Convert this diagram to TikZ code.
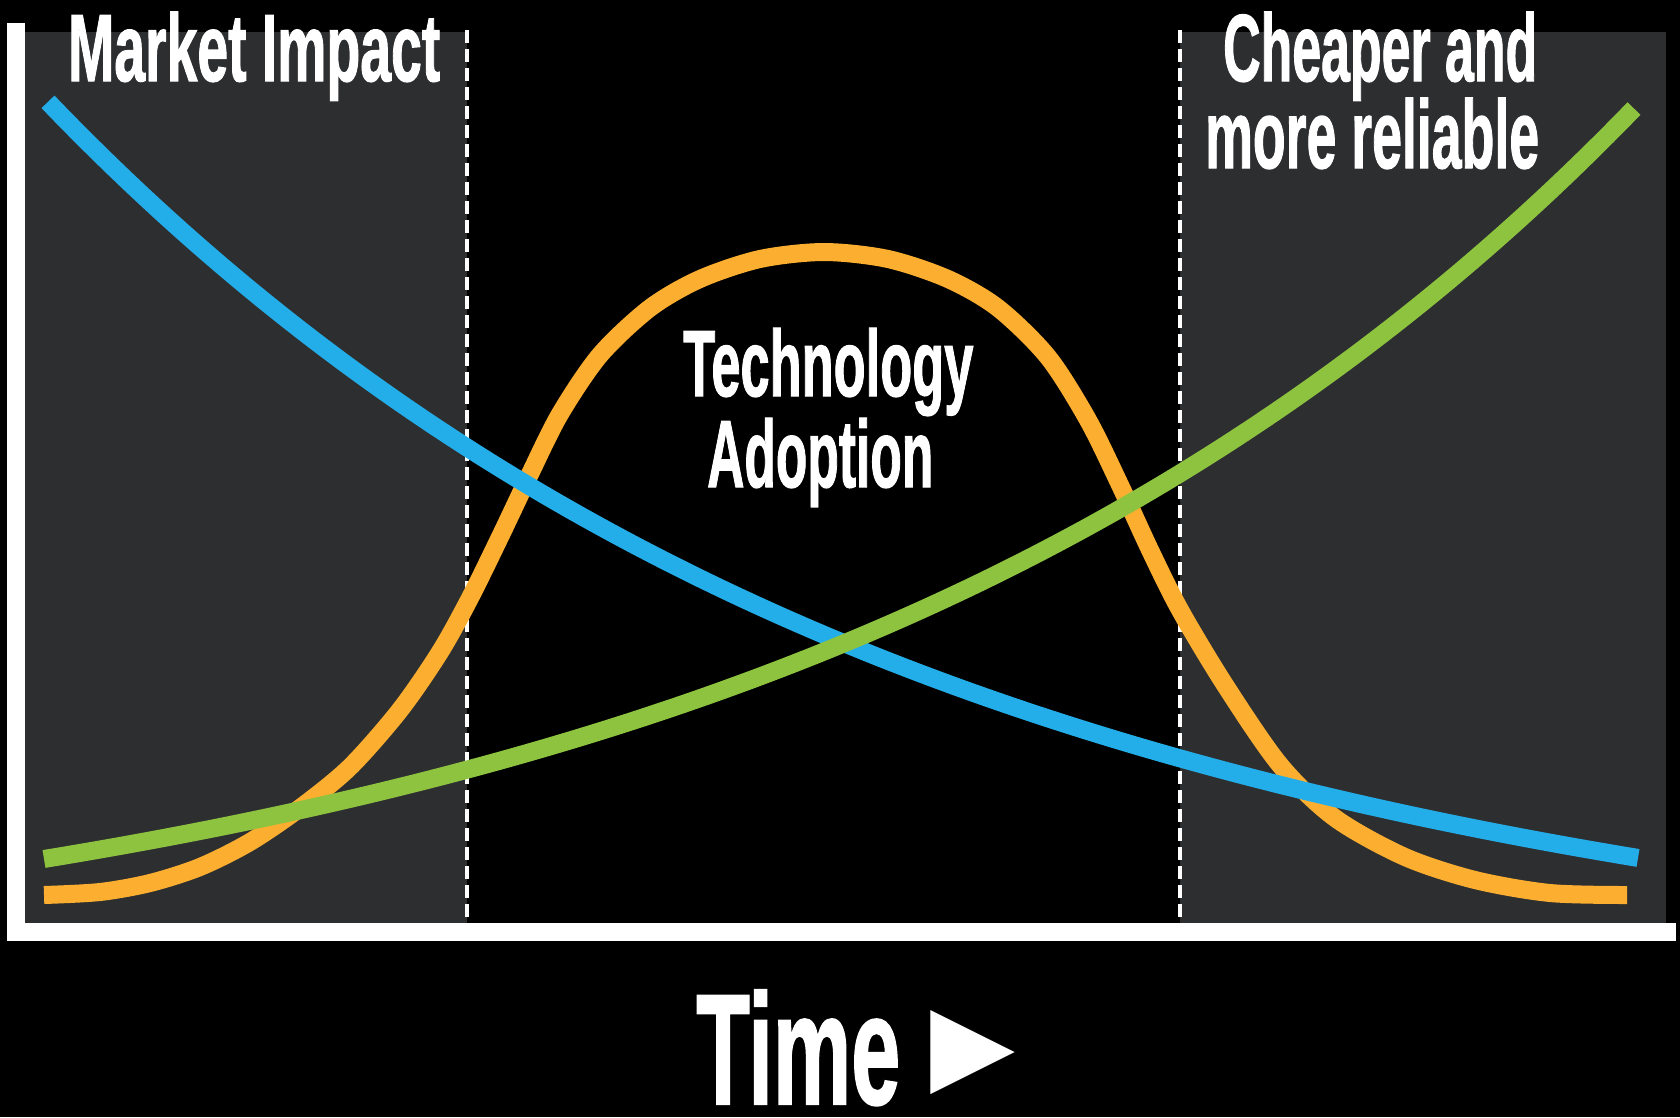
\documentclass[tikz,border=0pt]{standalone}
\usepackage{fontspec}
\usepackage{graphicx}
\newfontfamily\gothic{Liberation Sans}[BoldFeatures={FakeBold=1.5}]
\newfontfamily\symfont{DejaVu Sans}
\definecolor{panelgray}{HTML}{2D2E30}
\definecolor{curveblue}{HTML}{23AEE9}
\definecolor{curvegreen}{HTML}{8DC33F}
\definecolor{curveorange}{HTML}{FBAE2F}
\newcommand{\gothtext}[3]{\resizebox{#1pt}{#2pt}{\gothic\bfseries #3}}
\tikzset{
  curve/.style={line width=18pt, line join=round},
  divider/.style={white, line width=4pt, dash pattern=on 13pt off 6pt},
  lbl/.style={inner sep=0pt, anchor=base west, text=white},
}
\begin{document}
\begin{tikzpicture}[x=1pt,y=-1pt]
\useasboundingbox (0,0) rectangle (1680,1117);
\fill[black] (0,0) rectangle (1680,1117);
% panels
\fill[panelgray] (25,32) rectangle (467,923);
\fill[panelgray] (1180,32) rectangle (1666,923);
% frame
\fill[white] (7,23) rectangle (25,941);
\fill[white] (7,923) rectangle (1676,941);
% dividers
\draw[divider] (467,30) -- (467,923);
\draw[divider] (1180,30) -- (1180,923);
% orange bell curve
\draw[curve, curveorange] plot[smooth, tension=0.5] coordinates {
 (44,895) (100,892) (150,883) (200,867) (250,842) (300,808) (350,767)
 (400,710) (440,652) (470,598) (500,537) (530,474) (560,414) (600,355)
 (650,308) (700,279) (760,259) (824,252) (888,259) (948,279) (998,308)
 (1048,357) (1088,420) (1120,485) (1150,550) (1180,610) (1225,685)
 (1280,765) (1335,818) (1405,857) (1475,880) (1550,893) (1627,895)};
% blue decreasing curve
\draw[curve, curveblue] plot[domain=48:1638, samples=120]
  (\x, {1000-exp(6.856-0.001165*\x)});
% green increasing curve
\draw[curve, curvegreen] plot[domain=44:1634, samples=120]
  (\x, {1000-exp(4.898+0.00116*\x)});
% texts
\node[lbl] (mi) at (68,81) {\gothtext{372}{69}{Market Impact}};
\node[lbl] (c1) at (1223,81) {\gothtext{314}{69}{Cheaper and}};
\node[lbl] (c2) at (1205,168) {\gothtext{334}{70}{more reliable}};
\node[lbl] (t1) at (683,396) {\gothtext{290}{68}{Technology}};
\node[lbl] (t2) at (707,487) {\gothtext{226}{69}{Adoption}};
\node[lbl] (time) at (696,1104) {\gothtext{204}{114}{Time}};
\node[inner sep=0pt, anchor=west, text=white] (arrow) at (930,1053)
  {\resizebox*{85pt}{86pt}{\symfont ►}};
\end{tikzpicture}
\end{document}
